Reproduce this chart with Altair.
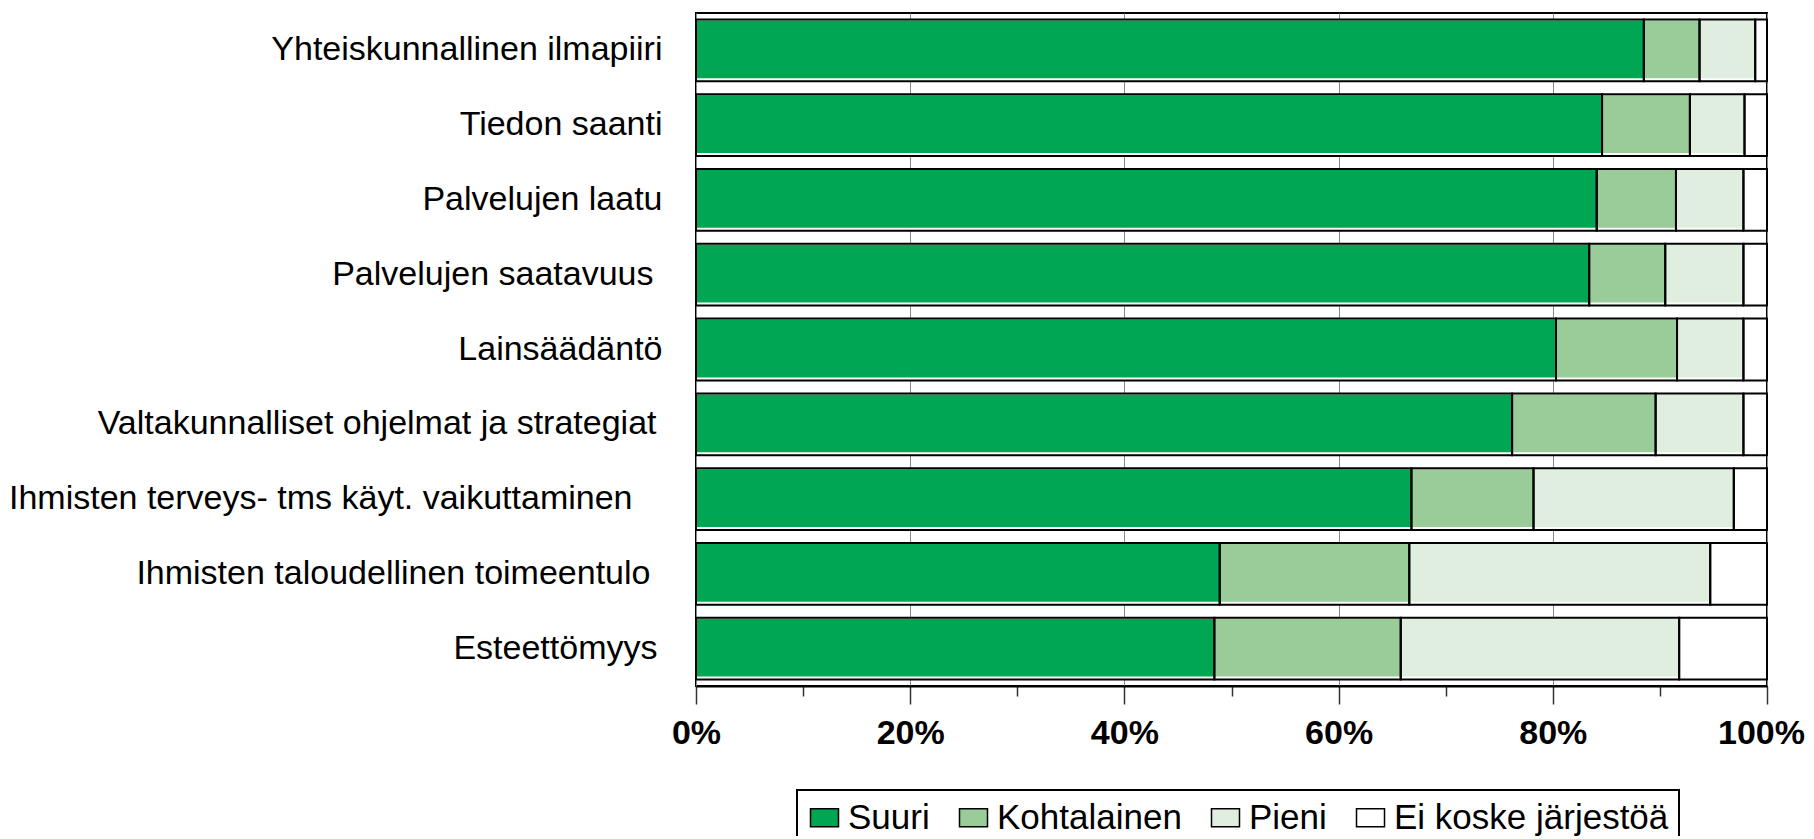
import altair as alt
import pandas as pd

categories = [
    "Yhteiskunnallinen ilmapiiri",
    "Tiedon saanti",
    "Palvelujen laatu",
    "Palvelujen saatavuus",
    "Lainsäädäntö",
    "Valtakunnalliset ohjelmat ja strategiat",
    "Ihmisten terveys- tms käyt. vaikuttaminen",
    "Ihmisten taloudellinen toimeentulo",
    "Esteettömyys",
]
series = ["Suuri", "Kohtalainen", "Pieni", "Ei koske järjestöä"]
suuri = [88.5, 84.6, 84.1, 83.4, 80.3, 76.2, 66.8, 48.9, 48.4]
kohtalainen = [5.2, 8.2, 7.4, 7.1, 11.3, 13.4, 11.4, 17.7, 17.4]
pieni = [5.2, 5.1, 6.3, 7.3, 6.2, 8.2, 18.7, 28.1, 26.0]
ei_koske = [1.1, 2.1, 2.2, 2.2, 2.2, 2.2, 3.1, 5.3, 8.2]
colors = ["#00A651", "#99CC99", "#E0EEE0", "#FFFFFF"]
tick_values = [0, 10, 20, 30, 40, 50, 60, 70, 80, 90, 100]

rows = []
for i, cat in enumerate(categories):
    for j, (s, vals) in enumerate(zip(series, [suuri, kohtalainen, pieni, ei_koske])):
        rows.append({"category": cat, "series": s, "value": vals[i], "ord": j})
df = pd.DataFrame(rows)

FONT = "Liberation Sans"

# labels in the original end at slightly different places (trailing spaces)
label_pad = {
    "Palvelujen saatavuus": 43,
    "Valtakunnalliset ohjelmat ja strategiat": 40,
    "Ihmisten terveys- tms käyt. vaikuttaminen": 64,
    "Ihmisten taloudellinen toimeentulo": 46,
    "Esteettömyys": 39,
}

y_enc = alt.Y(
    "category:N",
    sort=categories,
    title=None,
    scale=alt.Scale(paddingInner=0.174, paddingOuter=0.087),
    axis=alt.Axis(
        ticks=False, domain=False, labelFont=FONT, labelFontSize=34,
        labelColor="black", labelLimit=1000,
        labelPadding={"condition": [
            {"test": f"datum.value == '{k}'", "value": v} for k, v in label_pad.items()
        ], "value": 34},
    ),
)
x_enc = alt.X(
    "value:Q",
    stack="zero",
    title=None,
    scale=alt.Scale(domain=[0, 100], nice=False, zero=True),
    axis=alt.Axis(
        values=tick_values,
        labelExpr="datum.value % 20 == 0 ? datum.value + '%' : ''",
        labelFont=FONT, labelFontSize=34, labelFontWeight="bold",
        labelColor="black", labelPadding=12, labelFlush=False, labelOverlap=False,
        labelOffset={"condition": {"test": "datum.value == 100", "value": -6}, "value": 0},
        tickSize={"condition": {"test": "datum.value % 20 == 0", "value": 18}, "value": 10},
        tickColor="#333333", tickWidth=1.5,
        domainColor="black", domainWidth=2,
        grid=True, gridColor="#888888", gridWidth=1,
        gridOpacity={"condition": {"test": "datum.value % 20 == 0", "value": 1}, "value": 0},
    ),
)
order_enc = alt.Order("ord:Q")

base = alt.Chart(df)

bg = base.mark_bar(fill="white", strokeWidth=0).encode(
    x=x_enc, y=y_enc, detail="series:N", order=order_enc
)
fill_layer = base.mark_bar(
    strokeWidth=0, xOffset=1, x2Offset=-3, height={"band": 0.935}, yOffset=-1
).encode(
    x=x_enc, y=y_enc, order=order_enc,
    color=alt.Color(
        "series:N", sort=series,
        scale=alt.Scale(domain=series, range=colors),
        legend=alt.Legend(
            title=None, orient="none", legendX=101, legendY=777,
            direction="horizontal",
            symbolType="M-1,-0.643H1V0.643H-1Z", symbolSize=784,
            symbolStrokeColor="black", symbolStrokeWidth=1.5, symbolOpacity=1,
            labelFont=FONT, labelFontSize=35, labelColor="black", labelLimit=1000,
            columnPadding=26, labelOffset=6, padding=10,
            strokeColor="black",
        ),
    ),
)
outline = base.mark_bar(fillOpacity=0, stroke="black", strokeWidth=2).encode(
    x=x_enc, y=y_enc, detail="series:N", order=order_enc
)

chart = (
    alt.layer(bg, fill_layer, outline)
    .properties(
        width=1071, height=673,
        autosize=alt.AutoSizeParams(type="none"),
        padding={"left": 688, "top": 5, "right": 38, "bottom": 150},
    )
    .configure_view(stroke="black", strokeWidth=2)
    .configure_legend(strokeWidth=2)
)

chart.save("out.html", embed_options={"renderer": "svg", "actions": False})
